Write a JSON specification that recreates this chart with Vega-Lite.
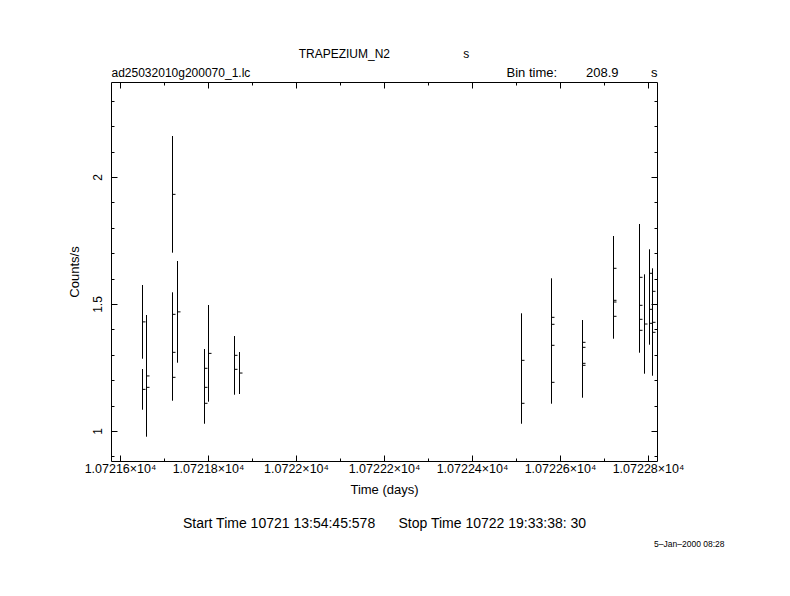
{
  "$schema": "https://vega.github.io/schema/vega-lite/v6.json",
  "autosize": {"type": "none"},
  "padding": {"left": 111, "top": 82, "right": 133, "bottom": 135},
  "width": 546,
  "height": 379,
  "background": "white",
  "title": {
    "text": "TRAPEZIUM_N2\u00a0\u00a0\u00a0\u00a0\u00a0\u00a0\u00a0\u00a0\u00a0\u00a0\u00a0\u00a0\u00a0\u00a0\u00a0\u00a0\u00a0\u00a0\u00a0\u00a0\u00a0\u00a0s",
    "anchor": "middle",
    "frame": "group",
    "fontSize": 12,
    "fontWeight": "normal",
    "font": "Liberation Sans",
    "color": "black",
    "offset": 6
  },
  "data": {
    "values": [
      {"t": 10721.6498, "rate": 1.4297, "lo": 1.2846, "hi": 1.5748},
      {"t": 10721.6498, "rate": 1.1640, "lo": 1.0839, "hi": 1.2441},
      {"t": 10721.6589, "rate": 1.2169, "lo": 0.9776, "hi": 1.4567},
      {"t": 10721.6589, "rate": 1.1720, "lo": 1.0539, "hi": 1.2902},
      {"t": 10721.7181, "rate": 1.9317, "lo": 1.7020, "hi": 2.1614},
      {"t": 10721.7181, "rate": 1.4594, "lo": 1.3728, "hi": 1.5461},
      {"t": 10721.7181, "rate": 1.3098, "lo": 1.2232, "hi": 1.3965},
      {"t": 10721.7181, "rate": 1.2114, "lo": 1.1193, "hi": 1.3035},
      {"t": 10721.7295, "rate": 1.4691, "lo": 1.2689, "hi": 1.6693},
      {"t": 10721.7902, "rate": 1.2469, "lo": 1.1709, "hi": 1.3228},
      {"t": 10721.7902, "rate": 1.1720, "lo": 1.0933, "hi": 1.2508},
      {"t": 10721.7902, "rate": 1.1091, "lo": 1.0287, "hi": 1.1894},
      {"t": 10721.8000, "rate": 1.3057, "lo": 1.1154, "hi": 1.4961},
      {"t": 10721.8592, "rate": 1.2980, "lo": 1.2220, "hi": 1.3740},
      {"t": 10721.8592, "rate": 1.2429, "lo": 1.1429, "hi": 1.3429},
      {"t": 10721.8699, "rate": 1.2283, "lo": 1.1457, "hi": 1.3110},
      {"t": 10722.5108, "rate": 1.2783, "lo": 1.0933, "hi": 1.4634},
      {"t": 10722.5108, "rate": 1.1091, "lo": 1.0287, "hi": 1.1894},
      {"t": 10722.5804, "rate": 1.4476, "lo": 1.2941, "hi": 1.6012},
      {"t": 10722.5804, "rate": 1.4201, "lo": 1.3020, "hi": 1.5382},
      {"t": 10722.5804, "rate": 1.3374, "lo": 1.2193, "hi": 1.4555},
      {"t": 10722.5804, "rate": 1.1917, "lo": 1.1075, "hi": 1.2760},
      {"t": 10722.6510, "rate": 1.3492, "lo": 1.2614, "hi": 1.4370},
      {"t": 10722.6510, "rate": 1.3295, "lo": 1.2429, "hi": 1.4161},
      {"t": 10722.6510, "rate": 1.2665, "lo": 1.1799, "hi": 1.3531},
      {"t": 10722.6510, "rate": 1.2587, "lo": 1.1311, "hi": 1.3862},
      {"t": 10722.7215, "rate": 1.6406, "lo": 1.5134, "hi": 1.7677},
      {"t": 10722.7215, "rate": 1.5146, "lo": 1.4161, "hi": 1.6130},
      {"t": 10722.7215, "rate": 1.5079, "lo": 1.4094, "hi": 1.6063},
      {"t": 10722.7215, "rate": 1.4516, "lo": 1.3634, "hi": 1.5398},
      {"t": 10722.7807, "rate": 1.6051, "lo": 1.3953, "hi": 1.8150},
      {"t": 10722.7807, "rate": 1.4949, "lo": 1.3768, "hi": 1.6130},
      {"t": 10722.7807, "rate": 1.4398, "lo": 1.3217, "hi": 1.5579},
      {"t": 10722.7807, "rate": 1.3965, "lo": 1.3083, "hi": 1.4846},
      {"t": 10722.7920, "rate": 1.4213, "lo": 1.2256, "hi": 1.6169},
      {"t": 10722.8021, "rate": 1.6209, "lo": 1.5264, "hi": 1.7154},
      {"t": 10722.8021, "rate": 1.4791, "lo": 1.3610, "hi": 1.5972},
      {"t": 10722.8021, "rate": 1.4240, "lo": 1.3398, "hi": 1.5083},
      {"t": 10722.8102, "rate": 1.5500, "lo": 1.4594, "hi": 1.6406},
      {"t": 10722.8102, "rate": 1.4280, "lo": 1.3098, "hi": 1.5461},
      {"t": 10722.8102, "rate": 1.3886, "lo": 1.2177, "hi": 1.5594}
    ]
  },
  "resolve": {"axis": {"x": "independent", "y": "independent"}},
  "layer": [
    {
      "mark": {"type": "rule", "color": "black", "strokeWidth": 1, "xOffset": 0.5},
      "encoding": {
        "x": {
          "field": "t", "type": "quantitative",
          "scale": {"domain": [10721.5786, 10722.8209], "nice": false, "zero": false, "round": true},
          "axis": {
            "orient": "bottom",
            "values": [10721.6, 10721.8, 10722, 10722.2, 10722.4, 10722.6, 10722.8],
            "tickSize": -6, "labelPadding": 7, "labelFlush": false, "labelOverlap": false,
            "labelExpr": "format(datum.value/10000, '.5~f') + '×10⁴'",
            "labelFontSize": 12.5,
            "title": "Time (days)", "titlePadding": 9
          }
        },
        "y": {
          "field": "lo", "type": "quantitative",
          "scale": {"domain": [0.882, 2.374], "nice": false, "zero": false},
          "axis": {
            "orient": "left", "values": [1, 1.5, 2], "tickSize": -6,
            "labelExpr": "format(datum.value, '~g')",
            "labelAngle": -90, "labelAlign": "center", "labelBaseline": "bottom",
            "labelPadding": 12.5, "labelFlush": false, "labelOverlap": false,
            "title": "Counts/s", "titlePadding": 10
          }
        },
        "y2": {"field": "hi"}
      }
    },
    {
      "mark": {"type": "tick", "orient": "horizontal", "size": 3, "thickness": 1, "color": "black", "opacity": 1, "xOffset": 2},
      "encoding": {
        "x": {
          "field": "t", "type": "quantitative",
          "scale": {"domain": [10721.5786, 10722.8209], "nice": false, "zero": false, "round": true},
          "axis": {
            "orient": "bottom",
            "values": [10721.6, 10721.7, 10721.8, 10721.9, 10722, 10722.1, 10722.2, 10722.3, 10722.4, 10722.5, 10722.6, 10722.7, 10722.8],
            "tickSize": -3, "labels": false,
            "title": "Start Time 10721 13:54:45:578\u00a0\u00a0\u00a0\u00a0\u00a0\u00a0Stop Time 10722 19:33:38: 30",
            "titleFontSize": 14, "titlePadding": 55
          }
        },
        "y": {
          "field": "rate", "type": "quantitative",
          "scale": {"domain": [0.882, 2.374], "nice": false, "zero": false},
          "axis": {
            "orient": "left",
            "values": [0.9, 1.0, 1.1, 1.2, 1.3, 1.4, 1.5, 1.6, 1.7, 1.8, 1.9, 2.0, 2.1, 2.2, 2.3],
            "tickSize": -3, "labels": false, "title": null
          }
        }
      }
    },
    {
      "mark": {"type": "rule", "opacity": 0},
      "encoding": {
        "x": {
          "field": "t", "type": "quantitative",
          "scale": {"domain": [10721.5786, 10722.8209], "nice": false, "zero": false, "round": true},
          "axis": {
            "orient": "top",
            "values": [10721.6, 10721.8, 10722, 10722.2, 10722.4, 10722.6, 10722.8],
            "tickSize": -6, "labels": false,
            "title": "ad25032010g200070_1.lc", "titleAnchor": "start", "titleAlign": "left",
            "titleFontSize": 12, "titlePadding": 2
          }
        },
        "y": {
          "field": "lo", "type": "quantitative",
          "scale": {"domain": [0.882, 2.374], "nice": false, "zero": false},
          "axis": {"orient": "right", "values": [1, 1.5, 2], "tickSize": -6, "labels": false, "title": null}
        },
        "y2": {"field": "hi"}
      }
    },
    {
      "mark": {"type": "rule", "opacity": 0},
      "encoding": {
        "x": {
          "field": "t", "type": "quantitative",
          "scale": {"domain": [10721.5786, 10722.8209], "nice": false, "zero": false, "round": true},
          "axis": {
            "orient": "top",
            "values": [10721.6, 10721.7, 10721.8, 10721.9, 10722, 10722.1, 10722.2, 10722.3, 10722.4, 10722.5, 10722.6, 10722.7, 10722.8],
            "tickSize": -3, "labels": false,
            "title": "Bin time:\u00a0\u00a0\u00a0\u00a0\u00a0\u00a0\u00a0\u00a0208.9\u00a0\u00a0\u00a0\u00a0\u00a0\u00a0\u00a0\u00a0\u00a0s",
            "titleAnchor": "end", "titleAlign": "right",
            "titleFontSize": 13, "titlePadding": 2
          }
        },
        "y": {
          "field": "lo", "type": "quantitative",
          "scale": {"domain": [0.882, 2.374], "nice": false, "zero": false},
          "axis": {
            "orient": "right",
            "values": [0.9, 1.0, 1.1, 1.2, 1.3, 1.4, 1.5, 1.6, 1.7, 1.8, 1.9, 2.0, 2.1, 2.2, 2.3],
            "tickSize": -3, "labels": false, "title": null
          }
        },
        "y2": {"field": "hi"}
      }
    },
    {
      "mark": {"type": "rule", "opacity": 0},
      "encoding": {
        "x": {
          "field": "t", "type": "quantitative",
          "scale": {"domain": [10721.5786, 10722.8209], "nice": false, "zero": false, "round": true},
          "axis": {
            "orient": "bottom", "ticks": false, "labels": false,
            "title": "5\u2013Jan\u20132000 08:28", "titleFontSize": 8.5,
            "titleAlign": "right", "titleAnchor": "end", "titleBaseline": "top",
            "titleX": 613, "titleY": 78
          }
        },
        "y": {
          "field": "lo", "type": "quantitative",
          "scale": {"domain": [0.882, 2.374], "nice": false, "zero": false},
          "axis": null
        },
        "y2": {"field": "hi"}
      }
    }
  ],
  "config": {
    "font": "Liberation Sans",
    "view": {"stroke": "black", "strokeWidth": 1},
    "axis": {
      "domain": false, "grid": false,
      "tickColor": "black", "tickWidth": 1,
      "labelColor": "black", "titleColor": "black",
      "labelFont": "Liberation Sans", "titleFont": "Liberation Sans",
      "labelFontSize": 12, "titleFontSize": 13, "titleFontWeight": "normal"
    }
  }
}
